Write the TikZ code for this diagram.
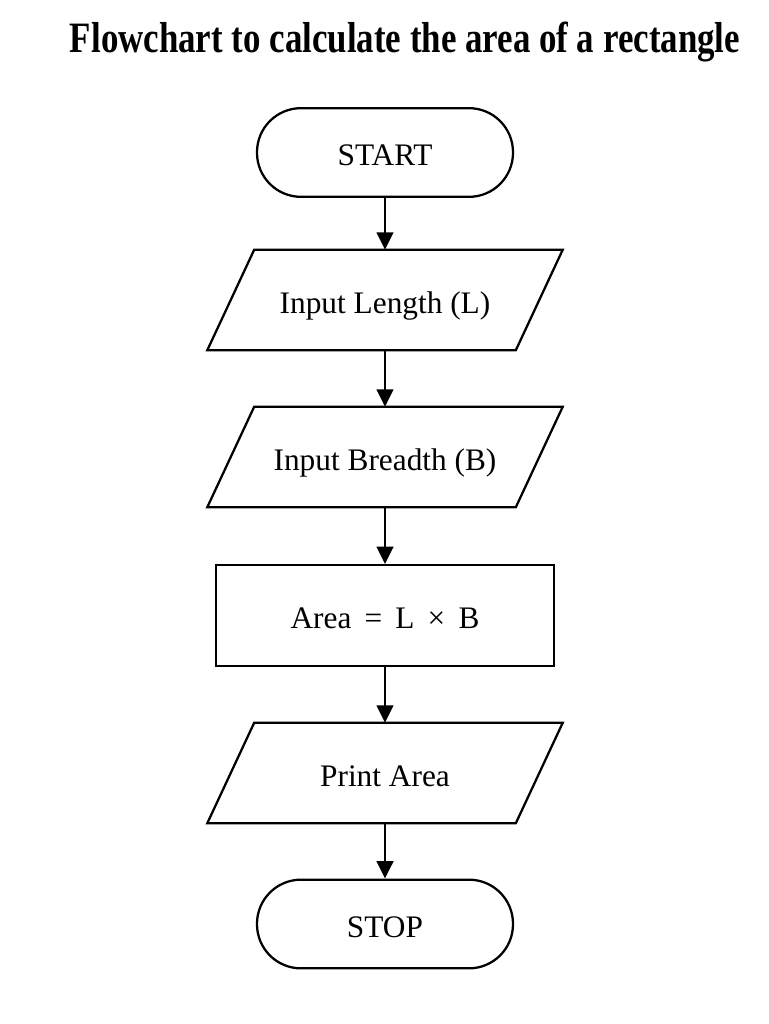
\documentclass[tikz,border=0pt]{standalone}
\usepackage{fontspec}
\setmainfont{Liberation Serif}
\newfontfamily\titlefont[FakeStretch=0.805]{Liberation Serif}
\usetikzlibrary{arrows.meta}
\tikzset{
  every node/.style={font=\fontsize{23.5pt}{27pt}\selectfont, text height=20pt, text depth=0pt},
  term/.style={draw, line width=1.7pt, rectangle, rounded corners=33pt, minimum width=192pt, minimum height=66.5pt, inner sep=0pt},
  iobox/.style={rectangle, minimum width=231pt, minimum height=75pt, inner sep=0pt},
  procbox/.style={draw, line width=1.7pt, rectangle, minimum width=254pt, minimum height=75.5pt, inner sep=0pt},
  para/.style={line width=1.7pt, line join=miter},
  flow/.style={line width=1.7pt, -{Triangle[width=12.5pt, length=13pt]}}
}
\newcommand{\drawpara}[1]{%
  \draw[para] ([xshift=17.6pt]#1.north west) -- ([xshift=17.6pt]#1.north east) -- ([xshift=-17.6pt]#1.south east) -- ([xshift=-17.6pt]#1.south west) -- cycle;}
\newcommand{\wsp}{\hspace{0.42em}}
\begin{document}
\begin{tikzpicture}[x=0.75pt, y=-0.75pt]
\useasboundingbox (0,0) rectangle (768,1024);
\node[font=\titlefont\bfseries\fontsize{32.5pt}{36pt}\selectfont, anchor=base, text height=, text depth=] (title) at (405,53) {Flowchart to calculate the area of a rectangle};
\node[term] (start) at (385,152.5) {START};
\node[iobox] (len) at (385,300) {Input Length (L)};
\drawpara{len}
\node[iobox] (bre) at (385,457) {Input Breadth (B)};
\drawpara{bre}
\node[procbox] (area) at (385,615.5) {Area\wsp=\wsp L\wsp×\wsp B};
\node[iobox] (prt) at (385,773) {Print Area};
\drawpara{prt}
\node[term] (stop) at (385,924) {STOP};
\draw[flow] (start) -- (len);
\draw[flow] (len) -- (bre);
\draw[flow] (bre) -- (area);
\draw[flow] (area) -- (prt);
\draw[flow] (prt) -- (stop);
\end{tikzpicture}
\end{document}
